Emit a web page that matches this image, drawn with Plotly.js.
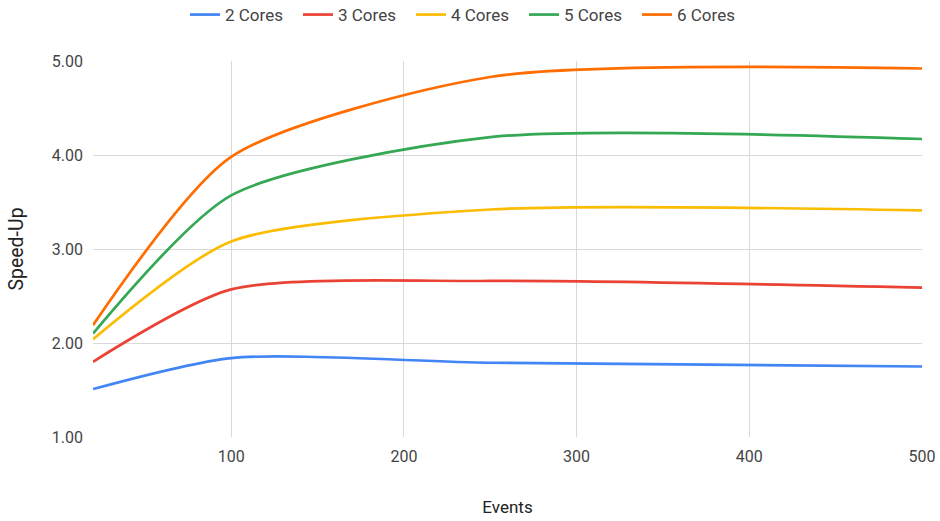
<!DOCTYPE html>
<html>
<head>
<meta charset="utf-8">
<script src="https://cdn.plot.ly/plotly-3.0.1.min.js"></script>
<style>
  html, body { margin: 0; padding: 0; background: #ffffff; }
  #chart { width: 940px; height: 521px; }
</style>
</head>
<body>
<div id="chart"></div>
<script>
// Number of events processed
const events = [20, 100, 250, 500];

// Speed-up per core count
const cores2 = [1.51, 1.84, 1.79, 1.75];
const cores3 = [1.80, 2.57, 2.66, 2.59];
const cores4 = [2.04, 3.08, 3.42, 3.41];
const cores5 = [2.10, 3.57, 4.19, 4.17];
const cores6 = [2.19, 3.98, 4.83, 4.92];

const seriesNames = ['2 Cores', '3 Cores', '4 Cores', '5 Cores', '6 Cores'];
const seriesValues = [cores2, cores3, cores4, cores5, cores6];
const seriesColors = ['#4285F4', '#EA4335', '#FBBC04', '#34A853', '#FF6D01'];

const xTicks = [100, 200, 300, 400, 500];
const yTicks = [1, 2, 3, 4, 5];

const FONT = 'Roboto, Arial, sans-serif';

const traces = seriesNames.map((name, i) => ({
  type: 'scatter',
  mode: 'lines',
  name: name,
  x: events,
  y: seriesValues[i],
  line: { color: seriesColors[i], width: 2.7, shape: 'spline', smoothing: 0.7 },
  hoverinfo: 'x+y+name'
}));

const layout = {
  width: 940,
  height: 521,
  paper_bgcolor: '#ffffff',
  plot_bgcolor: '#ffffff',
  margin: { l: 93, r: 18, t: 61, b: 84, autoexpand: false },
  font: { family: FONT, size: 16, color: '#444444' },
  showlegend: true,
  legend: {
    orientation: 'h',
    x: 0.111, xanchor: 'left',
    y: 1.1223, yanchor: 'middle',
    entrywidth: 68,
    font: { family: FONT, size: 17, color: '#444444' },
    bgcolor: 'rgba(0,0,0,0)'
  },
  xaxis: {
    range: [events[0], 500],
    tickmode: 'array',
    tickvals: xTicks,
    ticktext: xTicks.map(String),
    showgrid: true,
    gridcolor: '#d9d9d9',
    gridwidth: 1,
    zeroline: false,
    showline: false,
    ticks: '',
    ticklabelstandoff: 8,
    tickfont: { family: FONT, size: 16, color: '#444444' },
    title: { text: 'Events', font: { family: FONT, size: 17, color: '#222222' }, standoff: 36 }
  },
  yaxis: {
    range: [1, 5],
    tickmode: 'array',
    tickvals: yTicks,
    ticktext: yTicks.map(v => v.toFixed(2)),
    showgrid: true,
    gridcolor: '#d9d9d9',
    gridwidth: 1,
    zeroline: false,
    showline: false,
    ticks: '',
    ticklabelstandoff: 9,
    tickfont: { family: FONT, size: 16, color: '#444444' },
    title: { text: 'Speed-Up', font: { family: FONT, size: 19.5, color: '#222222' }, standoff: 22 }
  }
};

Plotly.newPlot('chart', traces, layout, { displayModeBar: false });
</script>
</body>
</html>
